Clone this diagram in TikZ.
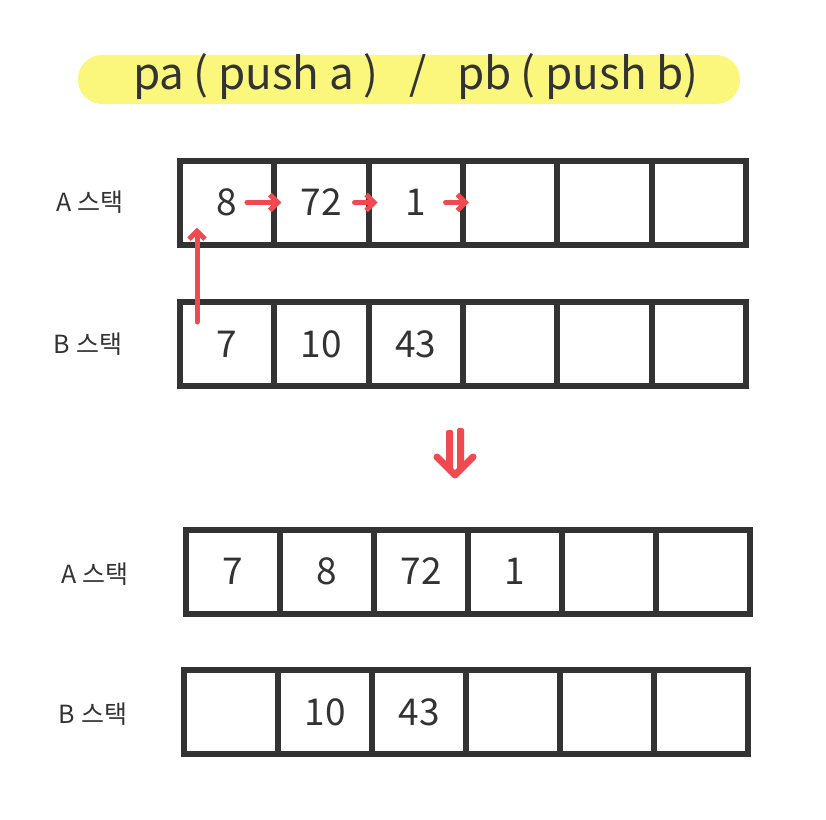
\documentclass[tikz,border=0pt]{standalone}
\usepackage{fontspec}
\setmainfont{Noto Sans CJK KR}
\usepackage{tikz}
\usetikzlibrary{arrows.meta, positioning}
\usepackage{xcolor}
\definecolor{inkgray}{HTML}{333333}
\definecolor{penred}{HTML}{EE4A4F}
\definecolor{hilite}{HTML}{FAF77C}

\tikzset{
  cell/.style={draw=inkgray, line width=6pt, minimum width=94.3pt,
    minimum height=84pt, inner sep=0pt, outer sep=0pt},
  num/.style={inkgray, font=\fontsize{37}{37}\selectfont},
  stacklbl/.style={inkgray, font=\fontsize{25}{25}\selectfont},
  push/.style={penred, line width=5pt, line cap=round, line join=round,
    -{Straight Barb[length=8pt, width=16pt]}},
}

\begin{document}
\begin{tikzpicture}[x=1pt, y=-1pt]

    \useasboundingbox (0,0) rectangle (826,819);

    %% ── Title ─────────────────────────────────────────────────────────────
    \fill[hilite, rounded corners=24pt] (78,55) rectangle (740,104);
    \node[inkgray, font=\fontsize{44}{44}\selectfont] (title) at (416,77)
      {pa\hspace{0.2em}( push a )\hspace{0.7em}/\hspace{0.7em}pb\hspace{0.2em}( push b)};

    %% ═══ Before: A stack ═════════════════════════════════════════════════
    \node[stacklbl] (lblta) at (90,202) {A 스택};
    \foreach \i in {1,...,6}
      \node[cell] (ta\i) at ({180+94.3*(\i-0.5)}, 202.5) {};
    \node[num] (vta1) at (ta1) {8};
    \node[num] (vta2) at (ta2) {72};
    \node[num] (vta3) at (ta3) {1};

    %% ═══ Before: B stack ═════════════════════════════════════════════════
    \node[stacklbl] (lbltb) at (88,344) {B 스택};
    \foreach \i in {1,...,6}
      \node[cell] (tb\i) at ({180+94.3*(\i-0.5)}, 344) {};
    \node[num] (vtb1) at (tb1) {7};
    \node[num] (vtb2) at (tb2) {10};
    \node[num] (vtb3) at (tb3) {43};

    %% push arrows
    \coordinate (pafrom) at ([xshift=17pt, yshift=-20pt]tb1.north west);
    \coordinate (pato)   at ([xshift=17pt, yshift=17pt]ta1.south west);
    \draw[push] (pafrom) -- (pato);
    \draw[push, shorten <=6pt, shorten >=-7pt] (vta1.east) -- (vta1.east -| ta2.west);
    \draw[push, shorten <=9pt, shorten >=-9pt] (vta2.east) -- (vta2.east -| ta3.west);
    \draw[push, shorten <=16pt, shorten >=-6pt] (vta3.east) -- (vta3.east -| ta4.west);

    %% Down arrow
    \fill[penred, rounded corners=2pt] (446,430) rectangle (453,470);
    \fill[penred, rounded corners=2pt] (457,428) rectangle (464,470);
    \draw[penred, line width=7pt, line cap=round, line join=round]
      (437,457) -- (455,475) -- (473,457);

    %% ═══ After: A stack ══════════════════════════════════════════════════
    \node[stacklbl] (lblba) at (95,574) {A 스택};
    \foreach \i in {1,...,6}
      \node[cell] (ba\i) at ({186+94*(\i-0.5)}, 571.5) {};
    \node[num] (vba1) at (ba1) {7};
    \node[num] (vba2) at (ba2) {8};
    \node[num] (vba3) at (ba3) {72};
    \node[num] (vba4) at (ba4) {1};

    %% ═══ After: B stack ══════════════════════════════════════════════════
    \node[stacklbl] (lblbb) at (93,714) {B 스택};
    \foreach \i in {1,...,6}
      \node[cell] (bb\i) at ({184+94*(\i-0.5)}, 712) {};
    \node[num] (vbb2) at (bb2) {10};
    \node[num] (vbb3) at (bb3) {43};

\end{tikzpicture}
\end{document}
